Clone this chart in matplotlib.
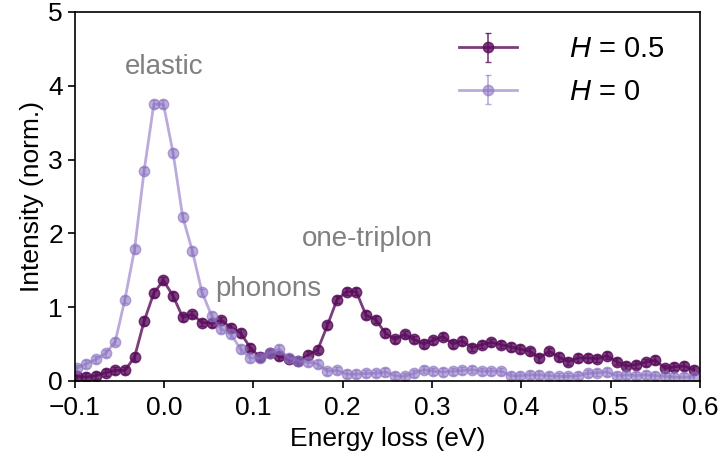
import numpy as np
import matplotlib.pyplot as plt

plt.rcParams['font.family'] = ['Liberation Sans', 'DejaVu Sans']
plt.rcParams['mathtext.fontset'] = 'custom'
plt.rcParams['mathtext.it'] = 'Liberation Sans:italic'
plt.rcParams['mathtext.rm'] = 'Liberation Sans'

# energy grid (eV)
energy = [-0.098, -0.0872, -0.0764, -0.0656, -0.0548, -0.044, -0.0332, -0.0224,
          -0.0116, -0.0008, 0.01, 0.0208, 0.0316, 0.0424, 0.0532, 0.064,
          0.0748, 0.0856, 0.0964, 0.1072, 0.118, 0.1288, 0.1396, 0.1504,
          0.1612, 0.172, 0.1828, 0.1936, 0.2044, 0.2152, 0.226, 0.2368,
          0.2476, 0.2584, 0.2692, 0.28, 0.2908, 0.3016, 0.3124, 0.3232,
          0.334, 0.3448, 0.3556, 0.3664, 0.3772, 0.388, 0.3988, 0.4096,
          0.4204, 0.4312, 0.442, 0.4528, 0.4636, 0.4744, 0.4852, 0.496,
          0.5068, 0.5176, 0.5284, 0.5392, 0.55, 0.5608, 0.5716, 0.5824, 0.5932]

# H = 0.5
int_h05 = [0.06, 0.05, 0.07, 0.11, 0.14, 0.14, 0.32, 0.81, 1.19, 1.36,
           1.15, 0.86, 0.90, 0.79, 0.78, 0.82, 0.72, 0.65, 0.45, 0.32,
           0.37, 0.33, 0.29, 0.27, 0.35, 0.42, 0.75, 1.10, 1.21, 1.21,
           0.89, 0.83, 0.65, 0.56, 0.63, 0.56, 0.50, 0.55, 0.60, 0.50,
           0.54, 0.45, 0.49, 0.52, 0.49, 0.46, 0.43, 0.40, 0.31, 0.40,
           0.32, 0.26, 0.31, 0.31, 0.30, 0.34, 0.26, 0.20, 0.22, 0.25,
           0.28, 0.17, 0.19, 0.20, 0.15]

# H = 0
int_h0 = [0.17, 0.23, 0.29, 0.37, 0.53, 1.10, 1.78, 2.85, 3.75, 3.75,
          3.09, 2.22, 1.76, 1.20, 0.88, 0.70, 0.63, 0.43, 0.31, 0.31,
          0.38, 0.43, 0.31, 0.27, 0.25, 0.23, 0.13, 0.14, 0.09, 0.09,
          0.10, 0.10, 0.12, 0.07, 0.06, 0.10, 0.15, 0.13, 0.12, 0.13,
          0.14, 0.15, 0.13, 0.13, 0.13, 0.07, 0.07, 0.08, 0.08, 0.07,
          0.06, 0.06, 0.07, 0.10, 0.11, 0.12, 0.07, 0.08, 0.07, 0.08,
          0.07, 0.06, 0.05, 0.05, 0.05]

err = 0.05

fig = plt.figure(figsize=(7.2, 4.61), dpi=100)
ax = fig.add_axes([0.104, 0.174, 0.868, 0.80])

ax.errorbar(energy, int_h05, yerr=err, color='#5a0d5c', alpha=0.8, lw=2,
            marker='o', ms=7.5, capsize=2.5, elinewidth=1.2, label=r'$H$ = 0.5')
ax.errorbar(energy, int_h0, yerr=err, color='#8c74c2', alpha=0.6, lw=2,
            marker='o', ms=7.5, capsize=2.5, elinewidth=1.2, label=r'$H$ = 0')

ax.text(0.0, 4.26, 'elastic', color='gray', fontsize=20, ha='center', va='center')
ax.text(0.117, 1.24, 'phonons', color='gray', fontsize=20, ha='center', va='center')
ax.text(0.227, 1.92, 'one-triplon', color='gray', fontsize=20, ha='center', va='center')

ax.set_xlim(-0.1, 0.6)
ax.set_ylim(0, 5)
ax.set_xticks([-0.1, 0.0, 0.1, 0.2, 0.3, 0.4, 0.5, 0.6])
ax.set_yticks([0, 1, 2, 3, 4, 5])
ax.tick_params(labelsize=19, width=1.2, length=5)
ax.tick_params(axis='x', pad=6)
for s in ax.spines.values():
    s.set_linewidth(1.2)
ax.set_xlabel('Energy loss (eV)', fontsize=19, labelpad=5)
ax.set_ylabel('Intensity (norm.)', fontsize=19, labelpad=3)

ax.legend(loc='upper right', frameon=False, fontsize=21, handlelength=2.0,
          handletextpad=1.8, borderaxespad=0, labelspacing=0.5,
          bbox_to_anchor=(0.963, 0.968))

fig.savefig('out.png', dpi=100)
